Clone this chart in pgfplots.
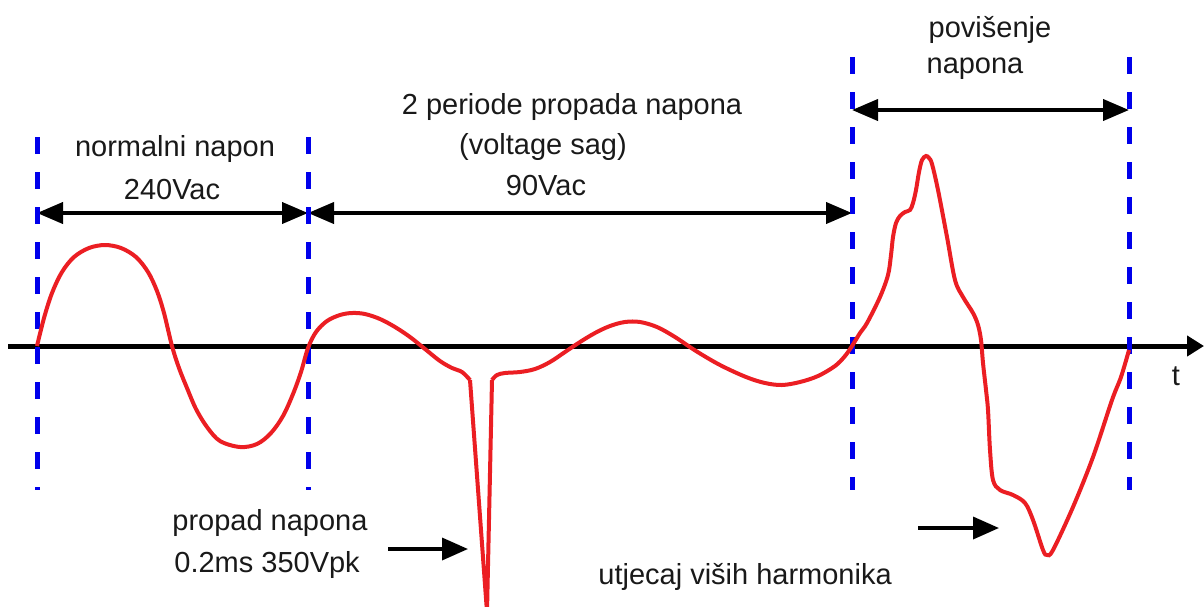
\documentclass[border=0pt]{standalone}
\usepackage{pgfplots}
\pgfplotsset{compat=1.18}
\usepackage{fontspec}
\setmainfont{Liberation Sans}
\usetikzlibrary{arrows.meta}
\definecolor{wred}{RGB}{235,30,35}
\definecolor{wblue}{RGB}{0,0,235}
\definecolor{txt}{RGB}{25,25,25}
\begin{document}
\begin{tikzpicture}
\begin{axis}[
  scale only axis, width=602pt, height=303pt,
  xmin=0, xmax=1204, ymin=0, ymax=606, y dir=reverse,
  hide axis, clip=true,
]
\path (axis cs:0,0) rectangle (axis cs:1204,606);
% time axis
\addplot[black, line width=2.5pt, -{Triangle[length=8.5pt,width=10pt]}] coordinates {(8,346) (1204,346)};
% double arrows
\addplot[black, line width=2pt, {Triangle[length=13pt,width=10.5pt]}-{Triangle[length=13pt,width=10.5pt]}] coordinates {(37,213) (308,213)};
\addplot[black, line width=2pt, {Triangle[length=13pt,width=10.5pt]}-{Triangle[length=13pt,width=10.5pt]}] coordinates {(308,213) (852,213)};
\addplot[black, line width=2pt, {Triangle[length=13pt,width=10.5pt]}-{Triangle[length=13pt,width=10.5pt]}] coordinates {(852,110) (1129,110)};
% single arrows
\addplot[black, line width=1.8pt, -{Triangle[length=13pt,width=11pt]}] coordinates {(388,549) (468,549)};
\addplot[black, line width=1.8pt, -{Triangle[length=13pt,width=11pt]}] coordinates {(918,528) (999,528)};
% dashed boundaries
\addplot[wblue, line width=2.5pt, dash pattern=on 8.5pt off 9pt] coordinates {(37,137) (37,490)};
\addplot[wblue, line width=2.5pt, dash pattern=on 8.5pt off 9pt] coordinates {(308,137) (308,490)};
\addplot[wblue, line width=2.5pt, dash pattern=on 8.5pt off 9pt] coordinates {(852,57) (852,490)};
\addplot[wblue, line width=2.5pt, dash pattern=on 8.5pt off 9pt] coordinates {(1129,57) (1129,490)};
% waveform
\addplot[wred, line width=2pt, smooth, tension=0.55] coordinates {
(37,346) (44,318) (52,293) (62,272) (74,257) (89,248) (105,245) (121,248) (136,257) (148,272) (157,291) (164,313) (172,346)
(179,368) (187,388) (196,409) (207,427) (220,441) (240,447) (257,444) (271,433) (283,416) (293,394) (301,372) (308,348)
(316,332) (327,321) (340,315) (352,313) (365,314) (380,319) (395,327) (410,337) (425,349) (440,361) (452,368) (462,372) (470,380)
};
\addplot[wred, line width=2pt, line join=round] coordinates {(470,380) (487,612) (492,380)};
\addplot[wred, line width=2pt, smooth, tension=0.55] coordinates {
(492,380) (497,375) (505,373) (520,372) (535,369) (550,362) (565,352) (580,342) (595,333) (610,326) (625,322) (640,322) (657,327) (675,337) (696,351) (720,365) (746,377) (765,383) (782,385) (800,382) (818,376) (835,366) (845,356) (852,346)
(860,333) (867,323) (880,297) (888,275) (891,255) (893,237) (896,223) (900,216) (905,212) (910,210) (913,203) (916,190) (919,172) (922,160) (926,156) (929,158) (932,164) (938,190) (947,237) (955,280) (963,297) (973,313) (978,325) (981,340) (983,363) (986,390) (988,410) (990,450) (993,480) (1000,490) (1013,495) (1025,503) (1033,520) (1043,550) (1047,555) (1053,550) (1073,507) (1093,457) (1112,400) (1121,377) (1129,350)
};
% labels
\begin{scope}[every node/.style={font=\fontsize{14.5}{17}\selectfont, text=txt, inner sep=0pt}]
\node[anchor=base] at (axis cs:175,156) {normalni napon};
\node[anchor=base] at (axis cs:172,199) {240Vac};
\node[anchor=base] at (axis cs:572,114) {2 periode propada napona};
\node[anchor=base] at (axis cs:543,154) {(voltage sag)};
\node[anchor=base] at (axis cs:546,195) {90Vac};
\node[anchor=base] at (axis cs:990,37) {povišenje};
\node[anchor=base] at (axis cs:975,73) {napona};
\node[anchor=base west] at (axis cs:172,530) {propad napona};
\node[anchor=base west] at (axis cs:174,572) {0.2ms 350Vpk};
\node[anchor=base west] at (axis cs:598,584) {utjecaj viših harmonika};
\node[anchor=base] at (axis cs:1176,385) {t};
\end{scope}
\end{axis}
\end{tikzpicture}
\end{document}
